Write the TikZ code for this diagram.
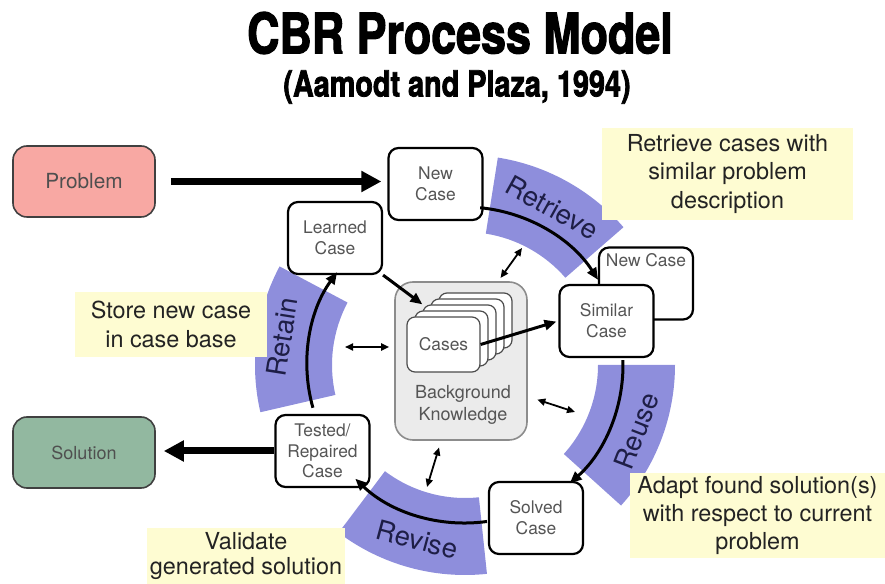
\documentclass[tikz,border=0pt]{standalone}
\usepackage{fontspec}
\setmainfont{TeX Gyre Heros}
\newfontfamily\titlefont{TeX Gyre Heros}[BoldFeatures={FakeStretch=0.8,FakeBold=2}]
\usetikzlibrary{positioning, calc, arrows.meta}

\definecolor{banda}{RGB}{142,142,220}
\definecolor{giallo}{RGB}{254,252,210}
\definecolor{rosa}{RGB}{248,168,163}
\definecolor{verde}{RGB}{146,184,160}
\definecolor{testo}{RGB}{85,85,85}
\definecolor{scuro}{RGB}{35,35,35}
\definecolor{blu}{RGB}{30,30,70}

\tikzset{
	caso/.style={rounded corners=5pt, draw=black, line width=1.1pt, fill=white, text=testo, align=center, font=\fontsize{8.7}{10.4}\selectfont, minimum width=47pt, minimum height=36pt, inner sep=1pt},
	scheda/.style={rounded corners=4pt, draw=black!70, line width=0.6pt, fill=white, text=testo, minimum width=36.5pt, minimum height=27.5pt, font=\fontsize{8.7}{10.4}\selectfont},
	esterno/.style={rounded corners=7pt, draw=black!75, line width=0.8pt, minimum width=71pt, minimum height=35.5pt, text=scuro!80},
	commento/.style={fill=giallo, text=scuro, align=center, font=\fontsize{11.7}{14.2}\selectfont, inner sep=0pt},
	fase/.style={text=blu, inner sep=0pt, font=\fontsize{13.7}{16}\selectfont},
	freccione/.style={line width=3.5pt, -{Triangle[length=10pt,width=10pt]}},
	freccia/.style={line width=1.5pt, -{Triangle[length=6pt,width=5pt]}},
	doppia/.style={line width=0.9pt, {Triangle[length=4pt,width=3.5pt]}-{Triangle[length=4pt,width=3.5pt]}}
}

\begin{document}
\begin{tikzpicture}[x=0.5pt, y=0.5pt]
		\useasboundingbox (0,0) rectangle (885,584);
		
		%Titolo
		\node (Title) at (460,551) {\titlefont\fontsize{28}{30}\selectfont\bfseries CBR Process Model};
		\node (Subtitle) at (457,497) {\titlefont\fontsize{18}{20}\selectfont\bfseries (Aamodt and Plaza, 1994)};
		
		%Centro del ciclo e bande delle fasi
		\coordinate (Hub) at (465,219);
		\foreach \da/\a in {41/81, -42/0, 233/276, 152/193}
		\fill[banda] ($(Hub)+(\da:133)$) arc[start angle=\da, end angle=\a, radius=133] -- ($(Hub)+(\a:210)$) arc[start angle=\a, end angle=\da, radius=210] -- cycle;
		
		\node[fase, rotate=-29] (Retrieve) at ($(Hub)+(61:180)$) {Retrieve};
		\node[fase, rotate=69] (Reuse) at ($(Hub)+(-21:184)$) {Reuse};
		\node[fase, rotate=-15] (Revise) at ($(Hub)+(254.7:181)$) {Revise};
		\node[fase, rotate=81] (Retain) at ($(Hub)+(171.3:185)$) {Retain};
		
		%Note gialle
		\node[commento, minimum width=125.5pt, minimum height=46pt] (NoteRetrieve) at (727.5,410) {Retrieve cases with\\similar problem\\description};
		\node[commento, minimum width=96pt, minimum height=32.5pt] (NoteRetain) at (171,259.5) {Store new case\\in case base};
		\node[commento, minimum width=127.5pt, minimum height=42.5pt] (NoteReuse) at (757.5,68.5) {Adapt found solution(s)\\with respect to current\\problem};
		\node[commento, minimum width=99pt, minimum height=28pt, font=\fontsize{11.7}{12.6}\selectfont] (NoteRevise) at (246,28) {Validate\\generated solution};
		
		%Problema e soluzione
		\node[esterno, fill=rosa] (Problem) at (84,402.5) {\fontsize{10.4}{12}\selectfont Problem};
		\node[esterno, fill=verde] (Solution) at (84,131.5) {\fontsize{9}{11}\selectfont Solution};
		
		%Conoscenza di base
		\node[rounded corners=9pt, draw=black!45, line width=0.8pt, fill=black!8, minimum width=66pt, minimum height=79pt] (Background) at (461,223) {};
		\node[text=testo, align=center, font=\fontsize{9}{11}\selectfont] (BackgroundText) at (463,179) {Background\\Knowledge};
		\foreach \k in {4,3,2,1}
		\node[scheda] (Card\k) at ({443.5+8*\k},{239.5+6*\k}) {};
		\node[scheda] (Cases) at (443.5,239.5) {Cases};
		
		%Casi del ciclo
		\node[caso] (NewCase) at (435.5,400) {New\\Case};
		\node[caso] (LearnedCase) at (335,346) {Learned\\Case};
		\node[caso, label={[text=testo, font=\fontsize{8.7}{10.4}\selectfont, anchor=north]north:New Case}] (NewCaseBack) at (646,300.5) {};
		\node[caso] (SimilarCase) at (606.5,263) {Similar\\Case};
		\node[caso] (SolvedCase) at (536,66) {Solved\\Case};
		\node[caso] (TestedCase) at (322.5,133) {Tested/\\Repaired\\Case};
		
		%Frecce grandi
		\draw[freccione, shorten <=7.5pt, shorten >=3pt] (Problem.east) -- (Problem.east -| NewCase.west);
		\draw[freccione, shorten >=4pt] (TestedCase.west) -- (TestedCase.west -| Solution.east);
		
		%Frecce del ciclo
		\coordinate (RetrieveStart) at ($(Hub)+(84.5:158)$);
		\coordinate (ReuseStart) at ($(Hub)+(1.8:158)$);
		\coordinate (ReviseStart) at ($(Hub)+(278:158)$);
		\coordinate (RetainStart) at ($(Hub)+(195.7:158)$);
		\draw[freccia] (RetrieveStart) arc[start angle=84.5, end angle=32.6, radius=158];
		\draw[freccia] (ReuseStart) arc[start angle=1.8, end angle=-48.5, radius=158];
		\draw[freccia] (ReviseStart) arc[start angle=278, end angle=226, radius=158];
		\draw[freccia] (RetainStart) arc[start angle=195.7, end angle=144, radius=158];
		
		\draw[freccia] (LearnedCase.south east) -- (Card2.north west);
		\draw[freccia, shorten >=1pt] (Cases.east) -- (SimilarCase.west);
		
		%Collegamenti con la conoscenza
		\coordinate (KnowLeft) at (345,237);
		\coordinate (KnowTop) at (522,336);
		\coordinate (KnowRight) at (575,172);
		\coordinate (KnowBottom) at (427,97);
		\draw[doppia, shorten >=2.5pt] (KnowLeft) -- (KnowLeft -| Background.west);
		\draw[doppia, shorten >=2pt] (KnowTop) -- (Background.65);
		\draw[doppia, shorten <=5pt] (Background.-28) -- (KnowRight);
		\draw[doppia, shorten <=3.5pt] (Background.256) -- (KnowBottom);
		
\end{tikzpicture}
\end{document}
